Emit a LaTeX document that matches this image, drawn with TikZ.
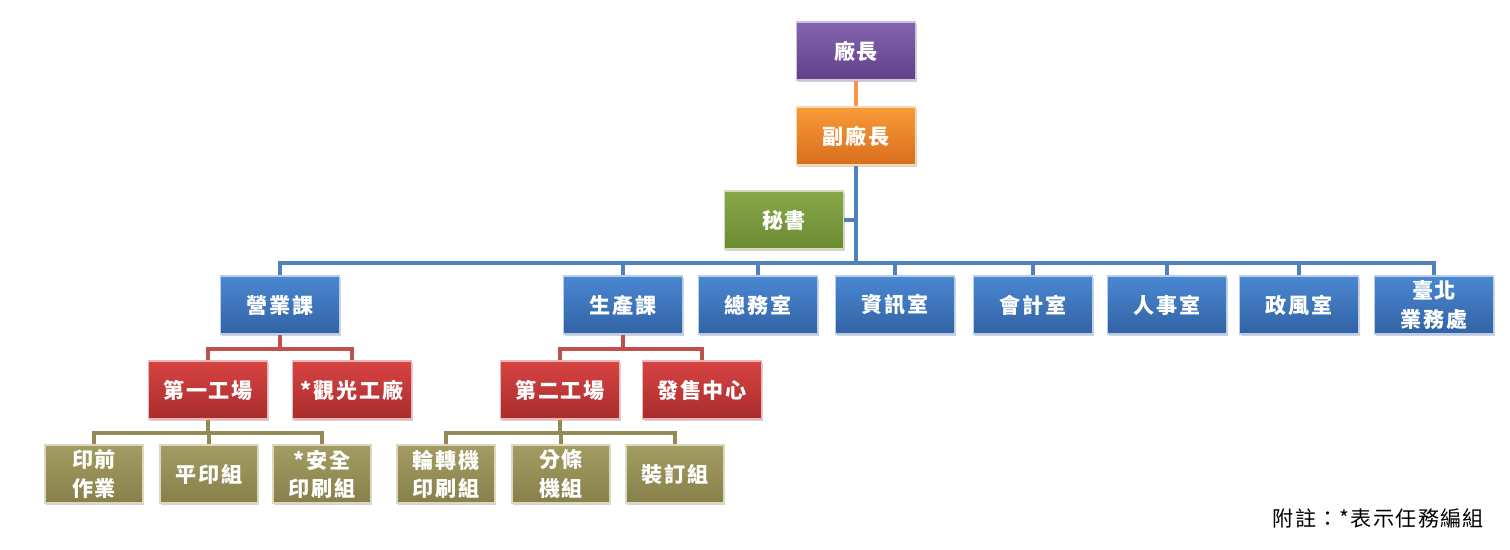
\documentclass[tikz,border=0pt]{standalone}
\usepackage{fontspec}
\usetikzlibrary{shadows}
\newfontfamily\tc[LetterSpace=8]{Noto Sans CJK TC}
\newfontfamily\tcnote[LetterSpace=6]{Noto Sans CJK TC}

\definecolor{purpletop}{HTML}{8464B0}
\definecolor{purplebot}{HTML}{5F4188}
\definecolor{orangetop}{HTML}{F99A3A}
\definecolor{orangebot}{HTML}{D86E1C}
\definecolor{greentop}{HTML}{88A84A}
\definecolor{greenbot}{HTML}{6C8A32}
\definecolor{bluetop}{HTML}{4A88D2}
\definecolor{bluebot}{HTML}{3262A4}
\definecolor{redtop}{HTML}{D84444}
\definecolor{redbot}{HTML}{A82C2C}
\definecolor{olivetop}{HTML}{A39D62}
\definecolor{olivebot}{HTML}{88804A}
\definecolor{bluelink}{HTML}{4F81BD}
\definecolor{redlink}{HTML}{C0504D}
\definecolor{olivelink}{HTML}{948A54}
\definecolor{orangelink}{HTML}{F79646}

\begin{document}
\begin{tikzpicture}[x=0.02cm, y=-0.02cm,
    box/.style={rectangle, minimum width=2.38cm, minimum height=1.16cm, inner sep=1pt,
        align=center, text=white, font=\tc\bfseries\fontsize{12}{16}\selectfont, line width=0.6pt,
        drop shadow={opacity=0.35, shadow xshift=0.8pt, shadow yshift=-1pt}},
    narrow/.style={box, minimum width=1.96cm},
    purplebox/.style={top color=purpletop, bottom color=purplebot, draw=purpletop!40!white},
    orangebox/.style={top color=orangetop, bottom color=orangebot, draw=orangetop!40!white},
    greenbox/.style={top color=greentop, bottom color=greenbot, draw=greentop!40!white},
    bluebox/.style={top color=bluetop, bottom color=bluebot, draw=bluetop!40!white},
    redbox/.style={top color=redtop, bottom color=redbot, draw=redtop!40!white},
    olivebox/.style={top color=olivetop, bottom color=olivebot, draw=olivetop!40!white},
    blueline/.style={line width=2.2pt, draw=bluelink},
    redline/.style={line width=2.2pt, draw=redlink},
    oliveline/.style={line width=2.2pt, draw=olivelink},
    orangeline/.style={line width=2.2pt, draw=orangelink},
]
    \useasboundingbox (0,0) rectangle (1510,550);

    % Top
    \node[box, purplebox] (chief) at (856,51) {廠長};
    \node[box, orangebox] (vice) at (856,136) {副廠長};
    \node[box, greenbox] (sec) at (784,220) {秘書};

    % Sections
    \node[box, bluebox] (sales) at (280,305) {營業課};
    \node[box, bluebox] (prod) at (623,305) {生產課};
    \node[box, bluebox] (general) at (758,305) {總務室};
    \node[box, bluebox] (info) at (895,305) {資訊室};
    \node[box, bluebox] (acct) at (1033,305) {會計室};
    \node[box, bluebox] (staff) at (1167,305) {人事室};
    \node[box, bluebox] (ethics) at (1299,305) {政風室};
    \node[box, bluebox] (taipei) at (1434,305) {臺北\\業務處};

    % Plants
    \node[box, redbox] (plantA) at (208,390) {第一工場};
    \node[box, redbox] (tour) at (352,390) {*觀光工廠};
    \node[box, redbox] (plantB) at (560,390) {第二工場};
    \node[box, redbox] (sale) at (702,390) {發售中心};

    % Groups
    \node[narrow, olivebox] (prepress) at (94,474) {印前\\作業};
    \node[narrow, olivebox] (offset) at (209,474) {平印組};
    \node[narrow, olivebox] (secure) at (322,474) {*安全\\印刷組};
    \node[narrow, olivebox] (rotary) at (446,474) {輪轉機\\印刷組};
    \node[narrow, olivebox] (slit) at (561,474) {分條\\機組};
    \node[narrow, olivebox] (bind) at (675,474) {裝訂組};

    % Lines
    \coordinate (bus) at (856,263);
    \coordinate (salesbus) at (280,349);
    \coordinate (prodbus) at (623,349);
    \coordinate (busA) at (208,433);
    \coordinate (busB) at (560,433);

    \draw[orangeline] (chief) -- (vice);
    \draw[blueline] (vice.south) -- (bus);
    \draw[blueline] (sec.east) -- (sec.east -| bus);
    \foreach \n in {sales,prod,general,info,acct,staff,ethics,taipei}
        \draw[blueline] (bus) -| (\n.north);
    \draw[redline] (sales.south) -- (salesbus);
    \foreach \n in {plantA,tour}
        \draw[redline] (salesbus) -| (\n.north);
    \draw[redline] (prod.south) -- (prodbus);
    \foreach \n in {plantB,sale}
        \draw[redline] (prodbus) -| (\n.north);
    \draw[oliveline] (plantA.south) -- (busA);
    \foreach \n in {prepress,offset,secure}
        \draw[oliveline] (busA) -| (\n.north);
    \draw[oliveline] (plantB.south) -- (busB);
    \foreach \n in {rotary,slit,bind}
        \draw[oliveline] (busB) -| (\n.north);

    % Note
    \node[font=\tcnote\fontsize{12}{14}\selectfont, anchor=east] (note) at (1490,518) {附註：*表示任務編組};
\end{tikzpicture}
\end{document}
